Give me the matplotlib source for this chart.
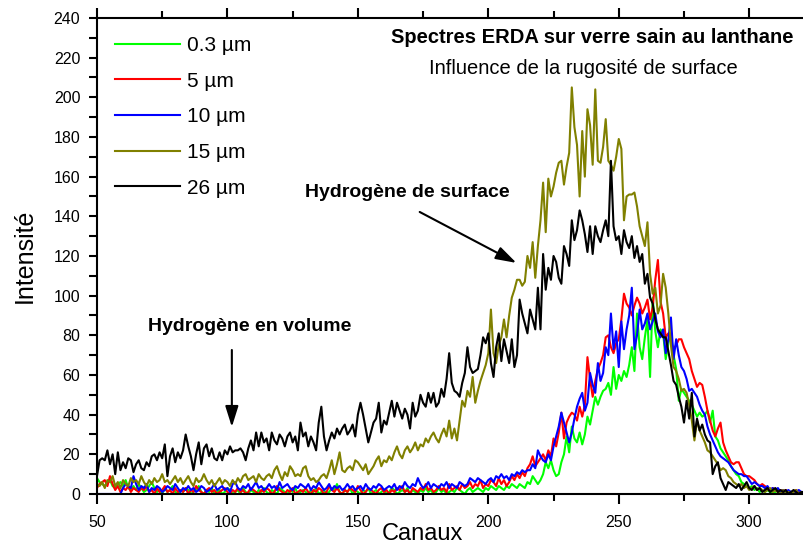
import numpy as np
import matplotlib.pyplot as plt
from matplotlib.ticker import MultipleLocator

plt.rcParams['font.family'] = ['Liberation Sans', 'DejaVu Sans']

# channels 50..321
canaux = np.arange(50, 322)

green_03 = [
    8, 6, 5, 4, 6, 7, 4, 3, 5, 6, 4, 7, 3, 2, 4, 2,
    5, 3, 1, 2, 4, 6, 3, 1, 2, 0, 3, 1, 2, 4, 1, 0,
    2, 1, 3, 2, 0, 1, 2, 4, 1, 0, 2, 1, 3, 0, 1, 2,
    0, 1, 3, 2, 0, 1, 2, 0, 3, 1, 0, 2, 1, 0, 2, 1,
    3, 1, 0, 2, 1, 0, 3, 2, 1, 0, 2, 1, 3, 0, 1, 2,
    1, 0, 2, 1, 3, 0, 1, 2, 0, 1, 3, 2, 5, 1, 0, 2,
    1, 3, 0, 2, 1, 0, 2, 1, 3, 0, 1, 2, 0, 1, 2, 0,
    1, 3, 2, 0, 1, 2, 1, 3, 0, 2, 1, 0, 2, 1, 3, 1,
    2, 0, 1, 3, 1, 2, 0, 1, 2, 1, 3, 2, 1, 0, 2, 3,
    1, 2, 3, 2, 1, 3, 2, 4, 3, 2, 4, 3, 2, 4, 3, 5,
    4, 3, 5, 4, 3, 6, 5, 9, 7, 5, 7, 10, 16, 13, 17, 12,
    9, 10, 16, 20, 29, 21, 34, 28, 26, 31, 25, 30, 39, 35, 42, 49,
    45, 49, 52, 53, 56, 50, 64, 53, 60, 57, 62, 59, 65, 74, 62, 91,
    74, 68, 79, 88, 59, 99, 82, 74, 83, 81, 68, 76, 81, 70, 63, 47,
    53, 51, 49, 47, 45, 42, 39, 41, 39, 40, 42, 36, 42, 29, 27, 23,
    21, 19, 17, 14, 12, 10, 9, 6, 5, 4, 3, 4, 2, 3, 1, 2,
    1, 2, 1, 0, 1, 2, 0, 1, 1, 0, 1, 0, 1, 0, 0, 1]

red_5 = [
    3, 5, 6, 7, 4, 9, 5, 2, 4, 1, 3, 2, 4, 1, 3, 2,
    1, 3, 2, 4, 1, 2, 0, 3, 1, 2, 4, 1, 2, 0, 3, 1,
    2, 1, 3, 0, 2, 1, 4, 2, 1, 0, 2, 3, 1, 2, 0, 1,
    2, 3, 1, 0, 2, 1, 3, 1, 2, 0, 1, 3, 2, 1, 0, 2,
    1, 3, 2, 0, 1, 4, 2, 1, 0, 2, 1, 3, 0, 1, 2, 1,
    3, 1, 0, 2, 1, 3, 2, 0, 1, 4, 2, 1, 3, 1, 0, 2,
    1, 3, 2, 1, 4, 2, 0, 1, 3, 2, 1, 0, 2, 3, 1, 2,
    0, 2, 1, 3, 2, 4, 1, 2, 0, 3, 2, 1, 3, 2, 5, 2,
    3, 1, 2, 4, 2, 3, 1, 5, 2, 3, 4, 2, 5, 3, 4, 6,
    3, 5, 4, 7, 3, 5, 4, 7, 6, 4, 8, 5, 7, 4, 6, 9,
    7, 10, 8, 11, 9, 13, 15, 19, 14, 16, 18, 20, 17, 22, 19, 28,
    24, 31, 41, 28, 36, 39, 41, 40, 37, 44, 39, 45, 69, 58, 49, 57,
    63, 66, 70, 79, 80, 74, 71, 76, 78, 88, 101, 96, 94, 90, 95, 99,
    96, 91, 94, 98, 88, 94, 108, 118, 97, 91, 79, 81, 77, 73, 75, 78,
    78, 74, 71, 68, 62, 58, 54, 56, 55, 49, 42, 37, 32, 29, 33, 36,
    26, 22, 19, 16, 15, 16, 16, 13, 10, 9, 9, 8, 7, 5, 4, 5,
    4, 3, 2, 3, 2, 1, 2, 1, 2, 1, 0, 1, 2, 1, 0, 1]

blue_10 = [
    0, 0, 0, 0, 0, 0, 0, 0, 0, 0, 3, 5, 4, 3, 9, 5,
    2, 4, 3, 5, 1, 3, 2, 4, 3, 1, 2, 4, 3, 2, 5, 3,
    1, 3, 2, 4, 2, 3, 1, 2, 4, 3, 1, 2, 3, 5, 2, 3,
    4, 2, 3, 1, 5, 6, 3, 2, 4, 3, 5, 2, 4, 6, 3, 4,
    2, 3, 5, 3, 4, 2, 6, 3, 4, 5, 3, 2, 4, 3, 5, 4,
    3, 5, 2, 4, 3, 6, 4, 2, 3, 5, 2, 4, 3, 4, 2, 3,
    5, 3, 4, 2, 3, 4, 2, 5, 3, 2, 4, 3, 5, 4, 2, 3,
    4, 3, 5, 2, 4, 3, 6, 4, 3, 5, 4, 8, 5, 3, 4, 6,
    3, 5, 4, 3, 5, 4, 6, 3, 5, 4, 3, 6, 5, 4, 5, 8,
    7, 6, 8, 7, 6, 5, 7, 8, 6, 9, 8, 10, 8, 9, 7, 10,
    9, 11, 10, 12, 11, 12, 12, 15, 13, 22, 19, 17, 16, 20, 17, 24,
    29, 34, 41, 36, 31, 26, 31, 38, 44, 48, 51, 42, 46, 61, 55, 51,
    66, 57, 61, 74, 70, 91, 73, 82, 64, 87, 73, 83, 90, 104, 73, 80,
    93, 83, 86, 91, 83, 87, 91, 82, 79, 83, 71, 78, 89, 68, 78, 70,
    64, 62, 58, 52, 53, 51, 49, 45, 42, 40, 34, 30, 27, 24, 21, 19,
    18, 17, 16, 14, 12, 11, 10, 10, 9, 9, 7, 5, 6, 5, 4, 4,
    3, 4, 2, 3, 2, 3, 1, 2, 1, 2, 1, 0, 1, 2, 1, 1]

olive_15 = [
    5, 4, 6, 3, 7, 6, 9, 4, 6, 3, 7, 5, 4, 8, 6, 7,
    5, 9, 6, 4, 7, 5, 8, 6, 7, 10, 6, 7, 5, 7, 9, 6,
    8, 5, 7, 9, 6, 4, 8, 6, 7, 10, 7, 5, 7, 4, 6, 8,
    5, 7, 6, 4, 7, 5, 8, 6, 9, 10, 7, 8, 9, 6, 10, 8,
    7, 9, 10, 8, 12, 14, 10, 7, 11, 9, 14, 12, 9, 10, 9, 13,
    14, 9, 7, 8, 6, 7, 9, 10, 8, 12, 17, 10, 15, 21, 12, 11,
    13, 14, 12, 17, 16, 14, 12, 15, 10, 12, 14, 17, 19, 14, 17, 16,
    19, 17, 21, 24, 20, 18, 22, 24, 21, 23, 26, 22, 25, 24, 28, 26,
    29, 31, 28, 26, 30, 33, 29, 37, 28, 33, 27, 37, 47, 44, 52, 49,
    59, 46, 52, 57, 61, 65, 71, 93, 71, 66, 75, 79, 88, 79, 90, 99,
    103, 108, 108, 105, 107, 120, 114, 127, 109, 125, 138, 157, 132, 159, 150, 155,
    162, 167, 168, 156, 165, 172, 205, 185, 176, 150, 183, 160, 194, 186, 166, 204,
    168, 167, 175, 189, 168, 166, 163, 170, 179, 174, 138, 150, 151, 151, 152, 145,
    135, 130, 125, 137, 111, 101, 104, 91, 95, 111, 104, 91, 75, 64, 62, 58,
    52, 53, 51, 45, 37, 27, 37, 32, 29, 26, 22, 21, 19, 17, 15, 12,
    13, 12, 9, 8, 6, 5, 4, 5, 3, 4, 2, 3, 4, 2, 3, 2,
    1, 2, 3, 1, 2, 1, 0, 2, 1, 1, 0, 1, 2, 0, 1, 0]

black_26 = [
    9, 17, 18, 17, 22, 15, 20, 10, 21, 12, 16, 13, 18, 17, 11, 15,
    17, 13, 12, 16, 14, 19, 20, 17, 21, 18, 25, 9, 19, 23, 16, 21,
    18, 22, 30, 24, 19, 12, 20, 26, 15, 23, 25, 19, 23, 18, 17, 21,
    17, 22, 20, 24, 21, 22, 22, 23, 21, 17, 23, 27, 22, 31, 24, 31,
    26, 28, 22, 31, 27, 25, 30, 28, 24, 29, 31, 26, 29, 22, 36, 29,
    31, 24, 29, 26, 22, 36, 44, 29, 22, 27, 31, 28, 33, 30, 33, 35,
    30, 32, 35, 29, 40, 46, 40, 33, 26, 31, 36, 38, 46, 31, 37, 35,
    41, 47, 39, 46, 42, 38, 43, 40, 33, 46, 39, 42, 50, 46, 44, 51,
    46, 51, 44, 46, 53, 49, 58, 71, 56, 52, 51, 49, 56, 61, 74, 64,
    61, 62, 63, 70, 79, 76, 81, 66, 59, 74, 81, 67, 78, 72, 66, 78,
    64, 70, 98, 91, 86, 81, 93, 88, 83, 104, 83, 121, 103, 114, 108, 120,
    117, 109, 106, 125, 121, 115, 138, 128, 133, 143, 138, 131, 122, 135, 121, 135,
    130, 127, 133, 138, 130, 168, 135, 128, 130, 121, 133, 127, 124, 130, 119, 125,
    117, 121, 106, 111, 99, 96, 88, 83, 81, 79, 79, 72, 65, 57, 55, 49,
    44, 36, 47, 38, 51, 29, 38, 32, 35, 30, 27, 26, 10, 14, 16, 8,
    5, 2, 6, 5, 4, 3, 5, 2, 4, 6, 3, 2, 4, 2, 3, 1,
    2, 3, 1, 2, 3, 1, 2, 1, 2, 0, 1, 2, 1, 0, 1, 1]

labels = ["0.3 µm", "5 µm", "10 µm", "15 µm", "26 µm"]
colors = ["#00ff00", "#ff0000", "#0000ff", "#808000", "#000000"]

fig = plt.figure(figsize=(8.04, 5.42), dpi=100)
ax = fig.add_axes([0.1206, 0.0886, 0.8794, 0.8782])

for ys, lab, col in zip([green_03, red_5, blue_10, olive_15, black_26], labels, colors):
    ax.plot(canaux, ys, color=col, lw=1.5, label=lab)

ax.set_xlim(50, 321)
ax.set_ylim(0, 240)
ax.xaxis.set_major_locator(MultipleLocator(50))
ax.xaxis.set_minor_locator(MultipleLocator(25))
ax.yaxis.set_major_locator(MultipleLocator(20))
ax.yaxis.set_minor_locator(MultipleLocator(10))
ax.tick_params(which='both', direction='out', width=1.5, labelsize=11.5,
               top=True, labeltop=False)
ax.tick_params(which='major', length=7)
ax.tick_params(which='minor', length=5)
ax.tick_params(axis='x', which='both', pad=8)
ax.tick_params(axis='y', which='both', length=6, pad=6)
for s in ['left', 'bottom', 'top']:
    ax.spines[s].set_linewidth(1.5)
ax.spines['right'].set_visible(False)

ax.set_xlabel("Canaux", fontsize=17)
ax.xaxis.set_label_coords(0.46, -0.062, transform=ax.transAxes)
ax.xaxis.label.set_va('top')
ax.set_ylabel("Intensité", fontsize=18, labelpad=12)

ax.legend(loc='upper left', bbox_to_anchor=(0.026, 0.962), frameon=False,
          fontsize=15, handlelength=3.1, handletextpad=0.35, labelspacing=0.8,
          borderaxespad=0, borderpad=0)

fig.text(0.737, 0.930, "Spectres ERDA sur verre sain au lanthane",
         fontsize=14.5, fontweight='bold', ha='center', va='center')
fig.text(0.725, 0.873, "Influence de la rugosité de surface",
         fontsize=14.5, ha='center', va='center')

ax.text(169, 152, "Hydrogène de surface", fontsize=14, fontweight='bold',
        ha='center', va='center')
ax.annotate("", xy=(210.8, 116.5), xytext=(173.7, 142.2),
            arrowprops=dict(arrowstyle='-|>,head_length=0.7,head_width=0.22',
                            color='black', lw=1.5,
                            mutation_scale=18, shrinkA=0, shrinkB=0))
ax.text(108.6, 84.2, "Hydrogène en volume", fontsize=14, fontweight='bold',
        ha='center', va='center')
ax.annotate("", xy=(101.7, 33.8), xytext=(101.7, 72.6),
            arrowprops=dict(arrowstyle='-|>,head_length=0.7,head_width=0.22',
                            color='black', lw=1.5,
                            mutation_scale=18, shrinkA=0, shrinkB=0))

fig.savefig("out.png", dpi=100)
